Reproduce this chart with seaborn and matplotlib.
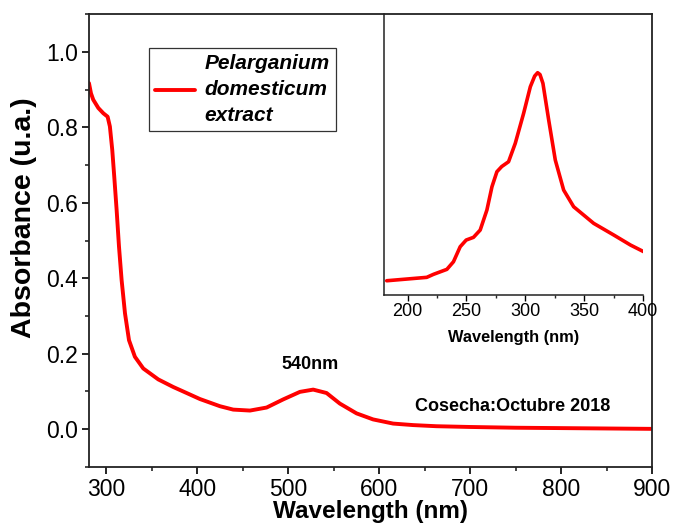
import matplotlib
matplotlib.use("Agg")
import matplotlib.pyplot as plt
from matplotlib.ticker import MultipleLocator, NullLocator
import seaborn as sns
import pandas as pd

# Main spectrum (wavelength nm, absorbance u.a.)
main_wl = [281, 283.2, 285.7, 291.3, 296.8, 301.5, 304, 306.6, 308.8, 311.4,
           314, 316.9, 320.6, 325, 331.5, 340.7, 357.2, 373.6, 386.5, 403,
           425, 439.6, 458, 476.3, 494.5, 512.9, 527.5, 542.2, 556.8, 575.2,
           593.4, 615.4, 637.4, 663, 700, 750, 800, 850, 900]
main_abs = [0.917, 0.890, 0.873, 0.851, 0.837, 0.828, 0.802, 0.740, 0.669,
            0.581, 0.484, 0.395, 0.307, 0.236, 0.192, 0.161, 0.132, 0.112,
            0.098, 0.080, 0.061, 0.052, 0.0495, 0.0575, 0.079, 0.099, 0.105,
            0.096, 0.068, 0.042, 0.026, 0.015, 0.011, 0.008, 0.006, 0.004,
            0.003, 0.002, 0.001]

# Inset spectrum (arbitrary units)
inset_wl = [182.3, 199.3, 216.3, 222, 233.4, 239, 244.7, 249.8, 256, 261.7,
            267.4, 271.7, 275.9, 280, 285.8, 291.5, 298.6, 304.3, 308, 310.5,
            312.5, 315, 319.9, 325.5, 332.6, 341.1, 358.1, 375.2, 389.4, 400.7]
inset_abs = [14.3, 16, 17.7, 20.7, 25.7, 33.3, 48.3, 55, 57.7, 65, 85, 108.3,
             123.3, 128.5, 133.3, 151.7, 181.7, 208.3, 219, 222.3, 220.5,
             211.7, 175, 135, 105, 88.3, 71.7, 60, 50, 43.3]

legend_label = "Pelarganium\ndomesticum\nextract"
peak_label = "540nm"
harvest_label = "Cosecha:Octubre 2018"

sns.set_theme(style="ticks")
plt.rcParams['font.family'] = ['Liberation Sans', 'DejaVu Sans']
plt.rcParams['text.color'] = 'black'
plt.rcParams['axes.labelcolor'] = 'black'

fig = plt.figure(figsize=(6.73, 5.25), dpi=100)
ax = fig.add_axes([0.1322, 0.1105, 0.8366, 0.8628])

df_main = pd.DataFrame({"wl": main_wl, "abs": main_abs})
sns.lineplot(data=df_main, x="wl", y="abs", ax=ax, color="#ff0000", lw=2.8,
             label=legend_label)
ax.set_xlim(281, 900)
ax.set_ylim(-0.1, 1.1)
ax.xaxis.set_major_locator(MultipleLocator(100))
ax.xaxis.set_minor_locator(MultipleLocator(50))
ax.set_yticks([0.0, 0.2, 0.4, 0.6, 0.8, 1.0])
ax.yaxis.set_minor_locator(MultipleLocator(0.1))
ax.tick_params(axis="both", which="major", direction="out", length=5, width=1.2,
               labelsize=16.5, colors="black", top=False, right=False, pad=3)
ax.tick_params(axis="both", which="minor", direction="out", length=3, width=1.2,
               top=False, right=False)
for s in ax.spines.values():
    s.set_linewidth(1.3)
    s.set_color("#222222")
ax.set_xlabel("Wavelength (nm)", fontsize=17.5, fontweight="bold", labelpad=-1,
              color="black")
ax.set_ylabel("Absorbance (u.a.)", fontsize=20.5, fontweight="bold",
              color="black")
ax.yaxis.set_label_coords(-0.093, 0.55)

leg = ax.legend(loc="upper left", bbox_to_anchor=(0.107, 0.925), frameon=True,
                fancybox=False, edgecolor="black", handlelength=1.9,
                borderpad=0.3, handletextpad=0.45, borderaxespad=0,
                prop={"size": 15, "style": "italic", "weight": "bold"})
leg.get_frame().set_linewidth(0.9)
for line in leg.get_lines():
    line.set_linewidth(2.8)
for t in leg.get_texts():
    t.set_linespacing(1.45)
    t.set_color("black")

ax.text(524, 0.172, peak_label, fontsize=13, fontweight="bold",
        ha="center", va="center", color="black")
ax.text(747, 0.059, harvest_label, fontsize=13, fontweight="bold",
        ha="center", va="center", color="black")

# Inset
axin = fig.add_axes([0.5706, 0.438, 0.3848, 0.5353])
axin.patch.set_alpha(0)
df_in = pd.DataFrame({"wl": inset_wl, "abs": inset_abs})
sns.lineplot(data=df_in, x="wl", y="abs", ax=axin, color="#ff0000", lw=2.6,
             legend=False)
axin.set_xlim(180, 400)
axin.set_ylim(0, 281)
axin.xaxis.set_major_locator(MultipleLocator(50))
axin.xaxis.set_minor_locator(MultipleLocator(25))
axin.yaxis.set_major_locator(NullLocator())
axin.yaxis.set_minor_locator(NullLocator())
axin.tick_params(axis="x", which="major", direction="out", length=4, width=1,
                 labelsize=13, pad=2, colors="black")
axin.tick_params(axis="x", which="minor", direction="out", length=2, width=1)
axin.spines["top"].set_visible(False)
axin.spines["right"].set_visible(False)
for s in ["left", "bottom"]:
    axin.spines[s].set_linewidth(1.1)
    axin.spines[s].set_color("#222222")
axin.set_xlabel("Wavelength (nm)", fontsize=11.8, fontweight="bold", labelpad=7,
                color="black")
axin.set_ylabel("")

fig.savefig("out.png", dpi=100)
